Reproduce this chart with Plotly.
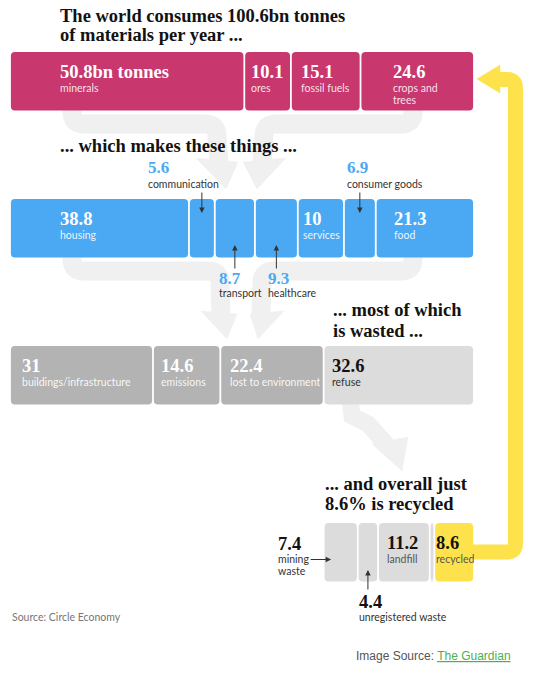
import plotly.graph_objects as go

# --- data (bn tonnes per year) ---
material_names = ["minerals", "ores", "fossil fuels", "crops and<br>trees"]
material_values = [50.8, 10.1, 15.1, 24.6]

product_names = ["housing", "communication", "transport", "healthcare",
                 "services", "consumer goods", "food"]
product_values = [38.8, 5.6, 8.7, 9.3, 10, 6.9, 21.3]

fate_names = ["buildings/infrastructure", "emissions", "lost to environment", "refuse"]
fate_values = [31, 14.6, 22.4, 32.6]

waste_names = ["mining<br>waste", "unregistered waste", "landfill", "", "recycled"]
waste_values = [7.4, 4.4, 11.2, 1.0, 8.6]

# --- look ---
W, H = 541, 680
SERIF = "Liberation Serif"
SANS = "Lato"
PINK = "#c8376d"
BLUE = "#4ba9f3"
DARK_GREY = "#b3b3b3"
LIGHT_GREY = "#dcdcdc"
YELLOW = "#fde24b"
FLOW = "#f0f0f0"
INK = "#121212"
LABEL = "#333333"

TOTAL = sum(material_values)
K = 464 / TOTAL          # px per bn tonnes
X0 = -10 / K             # left axis limit so that 0 sits 10px in
ROW_TOP = [52, 199, 346, 523]
ROW_H = 58.5


def ux(px):
    """pixel column -> data x"""
    return X0 + px / K


def edges(values, start=0.0):
    out = []
    for v in values:
        out.append((start, start + v))
        start += v
    return out


def rrect(a, b, top, bottom, r=4, gap=0.9):
    a += gap / K
    b -= gap / K
    rx = r / K
    return (f"M {a + rx},{top} L {b - rx},{top} Q {b},{top} {b},{top + r} "
            f"L {b},{bottom - r} Q {b},{bottom} {b - rx},{bottom} "
            f"L {a + rx},{bottom} Q {a},{bottom} {a},{bottom - r} "
            f"L {a},{top + r} Q {a},{top} {a + rx},{top} Z")


def px_path(cmds, close=False):
    parts = []
    for cmd, pts in cmds:
        parts.append(cmd + " " + " ".join(f"{ux(x)},{y}" for x, y in pts))
    return " ".join(parts) + (" Z" if close else "")


shapes = []
annotations = []


def text(x, y, s, size, color, serif=False, xshift=0, anchor="left"):
    annotations.append(dict(
        x=x, y=y, xref="x", yref="y", text=s, showarrow=False,
        xanchor=anchor, yanchor="middle", xshift=xshift, borderpad=0,
        font=dict(family=SERIF if serif else SANS, size=size, color=color,
                  weight=700 if serif else 400),
    ))


def pointer(x, y, ax, ay, xshift=0):
    annotations.append(dict(
        x=x, y=y, xref="x", yref="y", text="", showarrow=True, ax=ax, ay=ay,
        xshift=xshift, arrowhead=2, arrowsize=1.1, arrowwidth=1, arrowcolor="#333333",
    ))


def flow(cmds, width, color=FLOW):
    shapes.append(dict(type="path", xref="x", yref="y", path=px_path(cmds),
                       line=dict(color=color, width=width), layer="below"))


def head(pts, color=FLOW):
    cmds = [("M", [pts[0]])] + [("L", [p]) for p in pts[1:]]
    shapes.append(dict(type="path", xref="x", yref="y",
                       path=px_path(cmds, close=True),
                       fillcolor=color, line=dict(color=color, width=0.5), layer="below"))


# grey flows: materials -> products
flow([("M", [(72, 100)]), ("L", [(72, 112)]), ("Q", [(72, 124), (84, 124)]),
      ("L", [(205, 124)]), ("Q", [(217, 124), (217, 136)]), ("L", [(219, 162)])], 19)
head([(196, 158), (238, 162), (226, 189)])
flow([("M", [(413, 100)]), ("L", [(413, 112)]), ("Q", [(413, 124), (401, 124)]),
      ("L", [(276, 124)]), ("Q", [(264, 124), (264, 136)]), ("L", [(262, 162)])], 19)
head([(243, 162), (286, 158), (257, 189)])

# products -> fates
flow([("M", [(72, 250)]), ("L", [(72, 259)]), ("Q", [(72, 271), (84, 271)]),
      ("L", [(208, 271)]), ("Q", [(220, 271), (220, 283)]), ("L", [(221, 314)])], 19)
head([(201, 311), (237, 314), (227, 339)])
flow([("M", [(413, 250)]), ("L", [(413, 259)]), ("Q", [(413, 271), (401, 271)]),
      ("L", [(274, 271)]), ("Q", [(262, 271), (262, 283)]), ("L", [(261, 314)])], 19)
head([(250, 314), (284, 311), (258, 339)])

# refuse -> waste
flow([("M", [(350, 398)]), ("L", [(352, 416)]), ("L", [(368, 424)]), ("L", [(387, 445)])], 17)
head([(372, 444), (408, 437), (402, 471)])

# yellow loop back from recycled to materials
flow([("M", [(470, 552)]), ("L", [(507, 552)]), ("Q", [(515.5, 552), (515.5, 543.5)]),
      ("L", [(515.5, 88)]), ("Q", [(515.5, 79.5), (507, 79.5)]), ("L", [(497, 79.5)])],
     15, YELLOW)
head([(500, 65), (500, 93), (477, 79)], YELLOW)

# --- bar rows ---
hover_x, hover_y, hover_t = [], [], []


def row(values, names, top, colors, start=0.0):
    segs = edges(values, start)
    for (a, b), c, v, n in zip(segs, colors, values, names):
        shapes.append(dict(type="path", xref="x", yref="y", path=rrect(a, b, top, top + ROW_H),
                           fillcolor=c, line_width=0, layer="above"))
        hover_x.append((a + b) / 2)
        hover_y.append(top + ROW_H / 2)
        hover_t.append(f"{n.replace('<br>', ' ')}: {v:g}bn tonnes")
    return segs


def inside(seg, top, num, name, pad, num_color, name_color):
    a = seg[0]
    text(a, top + 20, num, 18.5, num_color, serif=True, xshift=pad)
    for i, line in enumerate(name.split("<br>")):
        text(a, top + 35.5 + 12 * i, line, 10.5, name_color, xshift=pad)


# row 1: materials
t = ROW_TOP[0]
segs = row(material_values, material_names, t, [PINK] * 4)
pads = [49, 6, 9, 31]
for i, (seg, v, n) in enumerate(zip(segs, material_values, material_names)):
    num = f"{v:g}bn tonnes" if i == 0 else f"{v:g}"
    inside(seg, t, num, n, pads[i], "white", "rgba(255,255,255,0.88)")

# row 2: products
t = ROW_TOP[1]
segs = row(product_values, product_names, t, [BLUE] * 7)
place = ["in", "above", "below", "below", "in", "above", "in"]
pads = [49, -55, -17, -9, 4, -14, 17]
for seg, v, n, p, pad in zip(segs, product_values, product_names, place, pads):
    mid = (seg[0] + seg[1]) / 2
    if p == "in":
        inside(seg, t, f"{v:g}", n, pad, "white", "rgba(255,255,255,0.9)")
    elif p == "above":
        text(mid, 167, f"{v:g}", 17, BLUE, serif=True, xshift=pad)
        text(mid, 183.5, n, 10.5, LABEL, xshift=pad)
        pointer(mid, 213, 0, -22)
    else:
        text(mid, 278.5, f"{v:g}", 17, BLUE, serif=True, xshift=pad)
        text(mid, 292.5, n, 10.5, LABEL, xshift=pad)
        pointer(mid, 245, 0, 25)

# row 3: fates
t = ROW_TOP[2]
segs = row(fate_values, fate_names, t, [DARK_GREY] * 3 + [LIGHT_GREY])
pads = [11, 7, 8.5, 7.5]
for i, (seg, v, n) in enumerate(zip(segs, fate_values, fate_names)):
    if i < 3:
        inside(seg, t, f"{v:g}", n, pads[i], "white", "rgba(255,255,255,0.92)")
    else:
        inside(seg, t, f"{v:g}", n, pads[i], INK, LABEL)

# row 4: what happens to refuse
t = ROW_TOP[3]
start = sum(fate_values[:3])
segs = row(waste_values, waste_names, t, [LIGHT_GREY] * 4 + [YELLOW], start)
# mining waste, label on the left
a = segs[0][0]
text(a, 543.5, f"{waste_values[0]:g}", 18.5, INK, serif=True, xshift=-46.5)
for i, line in enumerate(waste_names[0].split("<br>")):
    text(a, 558.5 + 12 * i, line, 10.5, LABEL, xshift=-46.5)
pointer(a, 559.5, -22, 0, xshift=7.5)
# unregistered waste, label below
mid = (segs[1][0] + segs[1][1]) / 2
text(mid, 602, f"{waste_values[1]:g}", 18.5, INK, serif=True, xshift=-10)
text(mid, 617, waste_names[1], 10.5, LABEL, xshift=-10)
pointer(mid, 570, 0, 21)
inside(segs[2], t, f"{waste_values[2]:g}", waste_names[2], 8, INK, "#555555")
inside(segs[4], t, f"{waste_values[4]:g}", waste_names[4], 1, INK, "#555555")

# --- headlines ---
text(ux(58.5), 15.5, f"The world consumes {TOTAL:.1f}bn tonnes", 18.5, INK, serif=True)
text(ux(58.5), 34.5, "of materials per year ...", 18.5, INK, serif=True)
text(ux(58.5), 145.5, "... which makes these things ...", 18.5, INK, serif=True)
text(ux(332), 310, "... most of which", 18.5, INK, serif=True)
text(ux(332), 330.5, "is wasted ...", 18.5, INK, serif=True)
text(ux(323.5), 484, "... and overall just", 18.5, INK, serif=True)
text(ux(323.5), 504, "8.6% is recycled", 18.5, INK, serif=True)

text(ux(11), 617, "Source: Circle Economy", 10.5, "#767676")
annotations.append(dict(
    x=ux(355), y=655.5, xref="x", yref="y", showarrow=False, xanchor="left",
    yanchor="middle", borderpad=0,
    text="Image Source: <span style='color:#4caf50'><u>The Guardian</u></span>",
    font=dict(family="Liberation Sans", size=12, color="#555555"),
))

fig = go.Figure(go.Scatter(
    x=hover_x, y=hover_y, text=hover_t, mode="markers",
    marker=dict(size=20, opacity=0), hoverinfo="text",
))
fig.update_layout(
    width=W, height=H,
    margin=dict(l=0, r=0, t=0, b=0),
    paper_bgcolor="white", plot_bgcolor="white",
    showlegend=False,
    xaxis=dict(range=[X0, X0 + W / K], visible=False, fixedrange=True),
    yaxis=dict(range=[H, 0], visible=False, fixedrange=True),
    shapes=shapes,
    annotations=annotations,
)

# page body has a default 8px margin; drop it so the figure fills the window
fig.write_html("out.html", config={"displayModeBar": False},
               post_script="document.body.style.margin='0';")
